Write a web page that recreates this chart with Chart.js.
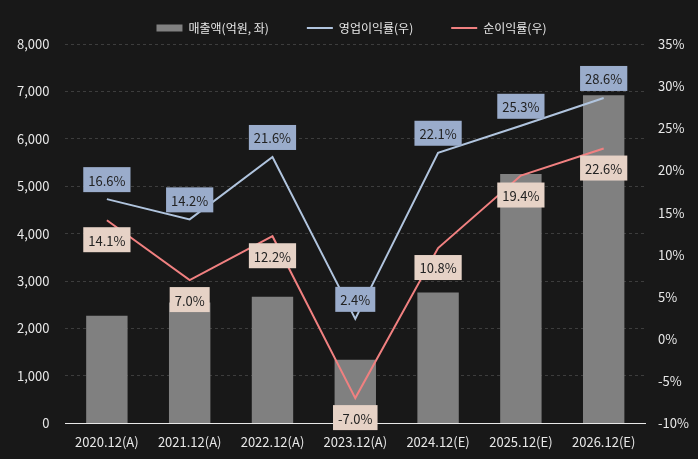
<!DOCTYPE html>
<html>
<head>
<meta charset="utf-8">
<script src="https://cdn.jsdelivr.net/npm/chart.js@4.4.1/dist/chart.umd.min.js"></script>
<style>
  html, body { margin: 0; padding: 0; background: #181818; }
  #wrap { width: 698px; height: 459px; }
</style>
</head>
<body>
<div id="wrap"><canvas id="chart"></canvas></div>
<script>
// 데이터
const labels = ['2020.12(A)', '2021.12(A)', '2022.12(A)', '2023.12(A)', '2024.12(E)', '2025.12(E)', '2026.12(E)'];
const sales = [2270, 2550, 2670, 1340, 2760, 5260, 6920];
const opMargin = [16.6, 14.2, 21.6, 2.4, 22.1, 25.3, 28.6];
const netMargin = [14.1, 7.0, 12.2, -7.0, 10.8, 19.4, 22.6];

const FONT = '"Noto Sans CJK KR", "Noto Sans", sans-serif';
const GRID = 'rgba(255,255,255,0.16)';

// 값 라벨 (박스)
const boxLabels = {
    id: 'boxLabels',
    afterDatasetsDraw(chart) {
        const ctx = chart.ctx;
        ctx.save();
        ctx.font = '13px ' + FONT;
        ctx.textAlign = 'center';
        ctx.textBaseline = 'middle';
        [1, 2].forEach(di => {
            const ds = chart.data.datasets[di];
            const meta = chart.getDatasetMeta(di);
            meta.data.forEach((pt, i) => {
                const text = ds.data[i].toFixed(1) + '%';
                const w = ctx.measureText(text).width + 10;
                const h = 25;
                const y = ds.labelPos === 'top' ? pt.y - 7 - h : pt.y + 7;
                ctx.fillStyle = ds.labelBg;
                ctx.fillRect(pt.x - w / 2, y, w, h);
                ctx.fillStyle = '#222222';
                ctx.fillText(text, pt.x, y + h / 2 + 1);
            });
        });
        ctx.restore();
    }
};

new Chart(document.getElementById('chart'), {
    data: {
        labels: labels,
        datasets: [
            {
                type: 'bar',
                label: '매출액(억원, 좌)',
                data: sales,
                backgroundColor: '#808080',
                borderWidth: 0,
                yAxisID: 'y',
                barPercentage: 0.5,
                categoryPercentage: 1,
                order: 2
            },
            {
                type: 'line',
                label: '영업이익률(우)',
                data: opMargin,
                borderColor: '#b0c4de',
                backgroundColor: '#b0c4de',
                borderWidth: 2,
                pointRadius: 0,
                tension: 0,
                yAxisID: 'y1',
                labelPos: 'top',
                labelBg: '#9aaccb',
                order: 1
            },
            {
                type: 'line',
                label: '순이익률(우)',
                data: netMargin,
                borderColor: '#f08080',
                backgroundColor: '#f08080',
                borderWidth: 2,
                pointRadius: 0,
                tension: 0,
                yAxisID: 'y1',
                labelPos: 'bottom',
                labelBg: '#e6d2c6',
                order: 0
            }
        ]
    },
    options: {
        responsive: true,
        maintainAspectRatio: false,
        animation: false,
        layout: { padding: { top: -16, left: 1, right: -4, bottom: -2 } },
        plugins: {
            tooltip: { enabled: false },
            legend: {
                position: 'top',
                labels: {
                    color: '#e8e8e8',
                    font: { family: FONT, size: 12 },
                    usePointStyle: true,
                    pointStyleWidth: 26,
                    boxHeight: 7,
                    padding: 38,
                    sort: (a, b) => a.datasetIndex - b.datasetIndex,
                    generateLabels(chart) {
                        const items = Chart.defaults.plugins.legend.labels.generateLabels(chart);
                        items.forEach(it => {
                            const isBar = it.datasetIndex === 0;
                            it.pointStyle = isBar ? 'rect' : 'line';
                            it.lineWidth = isBar ? 0 : 2;
                        });
                        return items;
                    }
                }
            }
        },
        scales: {
            x: {
                grid: { display: false, drawTicks: false },
                border: { display: true, color: '#e8e8e8', width: 1 },
                ticks: { color: '#e8e8e8', font: { family: FONT, size: 13 }, padding: 11, maxRotation: 0 }
            },
            y: {
                position: 'left',
                min: 0,
                max: 8000,
                ticks: { stepSize: 1000, color: '#e8e8e8', font: { family: FONT, size: 13 }, padding: 16 },
                grid: { color: GRID, drawTicks: false },
                border: { display: false, dash: [3, 3] }
            },
            y1: {
                position: 'right',
                min: -10,
                max: 35,
                ticks: {
                    stepSize: 5,
                    color: '#e8e8e8',
                    font: { family: FONT, size: 13 },
                    padding: 13,
                    callback: v => v + '%'
                },
                grid: { display: false, drawTicks: false },
                border: { display: false }
            }
        }
    },
    plugins: [boxLabels]
});
</script>
</body>
</html>
